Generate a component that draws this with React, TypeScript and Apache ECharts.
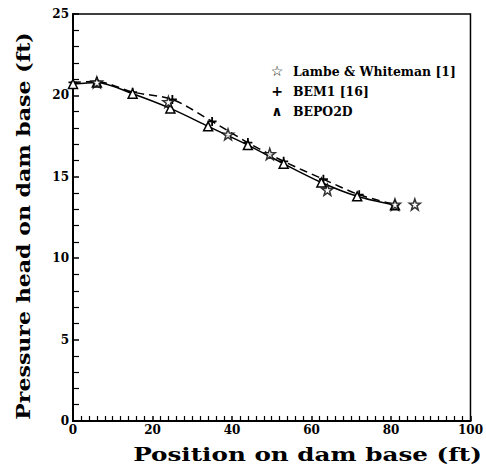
import React, { useEffect, useRef } from "react";
import * as echarts from "echarts";

const lambeX = [6, 24, 39, 49.5, 64, 81, 86];
const lambeY = [20.8, 19.6, 17.6, 16.4, 14.2, 13.3, 13.3];

const bemX = [0, 6, 15, 25, 35, 44, 53, 63, 72, 81];
const bemY = [20.8, 20.85, 20.2, 19.75, 18.4, 17.1, 15.95, 14.85, 13.9, 13.3];

const bepoX = [0, 6, 15, 24.5, 34, 44, 53, 62.5, 71.5, 81];
const bepoY = [20.7, 20.8, 20.1, 19.2, 18.1, 16.95, 15.8, 14.65, 13.8, 13.25];

const legendLabels = ["Lambe & Whiteman [1]", "BEM1 [16]", "BEPO2D"];
const legendSymbols = ["☆", "+", "∧"];

const xTitle = "Position on dam base (ft)";
const yTitle = "Pressure head on dam base (ft)";

const STAR =
  "path://M100 0 L123.5 67.6 L195.1 69.1 L138 112.4 L158.8 180.9 L100 140 L41.2 180.9 L62 112.4 L4.9 69.1 L76.5 67.6 Z";
const PLUS = "path://M4 0H6V4H10V6H6V10H4V6H0V4H4Z";

const zip = (xs: number[], ys: number[]) => xs.map((x, i) => [x, ys[i]]);

function measure(text: string, font: string): number {
  const c = document.createElement("canvas");
  const ctx = c.getContext("2d");
  if (!ctx) return 0;
  ctx.font = font;
  return ctx.measureText(text).width;
}

export default function App() {
  const ref = useRef<HTMLDivElement>(null);
  useEffect(() => {
    document.body.style.margin = "0";
    if (!ref.current) return;
    const chart = echarts.init(ref.current, null, { renderer: "svg" });
    const titleFont = "bold 18px 'DejaVu Serif'";
    const xw = measure(xTitle, titleFont) || 260;
    const yw = measure(yTitle, titleFont) || 300;
    const legendFont = "bold 13px 'DejaVu Serif'";
    const lw = measure(legendLabels[0], legendFont) || 150;
    const legendScale = 163 / lw;
    const labelFont = {
      color: "#000",
      fontFamily: "DejaVu Serif",
      fontWeight: "bold" as const,
      fontSize: 12,
    };
    chart.setOption({
      animation: false,
      backgroundColor: "#fff",
      grid: {
        left: 73,
        right: 11,
        top: 14,
        bottom: 47,
        show: true,
        borderColor: "#000",
        borderWidth: 1.5,
      },
      xAxis: {
        type: "value",
        min: 0,
        max: 100,
        interval: 20,
        axisLine: { show: true, lineStyle: { color: "#000", width: 2 } },
        axisTick: { show: true, inside: true, length: 5, lineStyle: { color: "#000", width: 1.5 } },
        minorTick: { show: true, splitNumber: 10, length: 5, lineStyle: { color: "#000", width: 1.2 } },
        splitLine: { show: false },
        axisLabel: { ...labelFont, margin: 3 },
      },
      yAxis: {
        type: "value",
        min: 0,
        max: 25,
        interval: 5,
        axisLine: { show: true, lineStyle: { color: "#000", width: 2 } },
        axisTick: { show: true, inside: true, length: 6, lineStyle: { color: "#000", width: 1.5 } },
        minorTick: { show: true, splitNumber: 5, length: 6, lineStyle: { color: "#000", width: 1.2 } },
        splitLine: { show: false },
        axisLabel: { ...labelFont, margin: 4 },
      },
      series: [
        {
          name: legendLabels[0],
          type: "scatter",
          data: zip(lambeX, lambeY),
          symbol: STAR,
          symbolSize: 11,
          itemStyle: { color: "#fff", borderColor: "#000", borderWidth: 1.5 },
          z: 5,
        },
        {
          name: legendLabels[1],
          type: "line",
          data: zip(bemX, bemY),
          smooth: 0.3,
          symbol: PLUS,
          symbolSize: 9,
          itemStyle: { color: "#000" },
          lineStyle: { color: "#000", width: 1.5, type: [8, 5] },
        },
        {
          name: legendLabels[2],
          type: "line",
          data: zip(bepoX, bepoY),
          smooth: 0.3,
          symbol: "triangle",
          symbolSize: 9,
          itemStyle: { color: "#fff", borderColor: "#000", borderWidth: 1.5 },
          lineStyle: { color: "#000", width: 1.5 },
        },
      ],
      graphic: [
        ...legendLabels.map((t, i) => ({
          type: "text",
          x: 277,
          y: 71 + i * 20,
          style: {
            text: legendSymbols[i],
            font: "bold 14px 'DejaVu Sans'",
            fill: "#000",
            align: "center",
            verticalAlign: "middle",
          },
        })),
        ...legendLabels.map((t, i) => ({
          type: "text",
          x: 293,
          y: 71 + i * 20,
          scaleX: legendScale,
          style: {
            text: t,
            font: legendFont,
            fill: "#000",
            align: "left",
            verticalAlign: "middle",
          },
        })),
        {
          type: "text",
          x: 307.5,
          y: 455,
          scaleX: 349 / xw,
          style: {
            text: xTitle,
            font: titleFont,
            fill: "#000",
            align: "center",
            verticalAlign: "middle",
          },
        },
        {
          type: "text",
          x: 24,
          y: 226,
          rotation: Math.PI / 2,
          scaleX: 388 / yw,
          style: {
            text: yTitle,
            font: titleFont,
            fill: "#000",
            align: "center",
            verticalAlign: "middle",
          },
        },
      ],
    });
    return () => chart.dispose();
  }, []);
  return <div ref={ref} style={{ width: 486, height: 468 }} />;
}
